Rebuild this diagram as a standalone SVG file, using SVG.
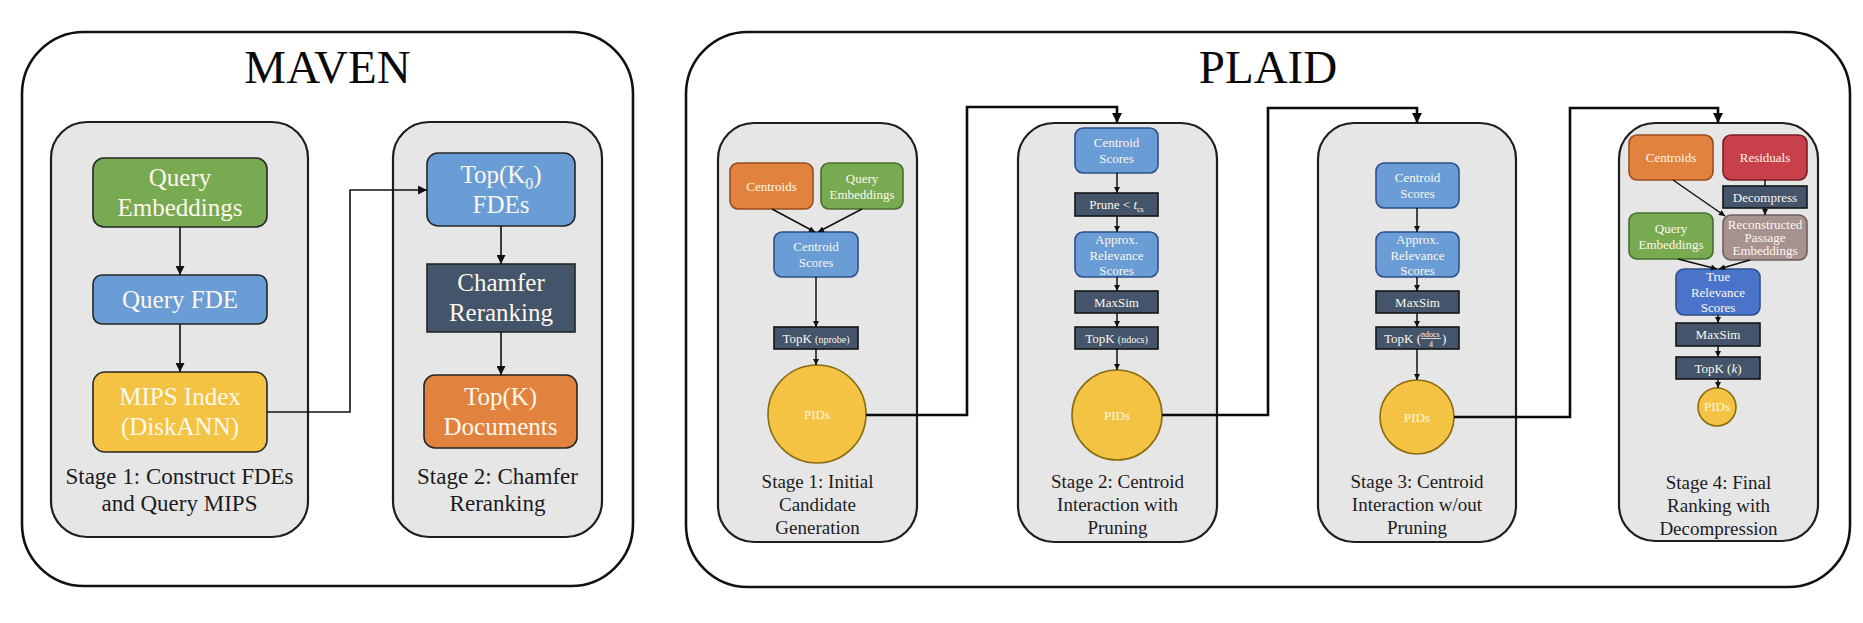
<svg xmlns="http://www.w3.org/2000/svg" width="1863" height="623" viewBox="0 0 1863 623" font-family="'Liberation Serif', 'Times New Roman', serif">
  <style>
    text { font-family: "Liberation Serif", "Times New Roman", serif; text-anchor: middle; }
    .outer { fill: #ffffff; stroke: #111; stroke-width: 2.6; }
    .stage { fill: #e7e6e7; stroke: #1e1e1e; stroke-width: 2.2; }
    .title { font-size: 47px; fill: #0a0a0a; }
    .mlabel { font-size: 23px; fill: #1c1c1c; }
    .plabel { font-size: 19px; fill: #1c1c1c; }
    .mtxt { font-size: 25px; fill: #fcf8ec; }
    .ptxt { font-size: 13px; fill: #fcf8ec; }
    .m-node { stroke: #262626; stroke-width: 1.6; }
    .green { fill: #78aa52; }
    .blue { fill: #6a9cd6; }
    .yellow { fill: #f4c343; }
    .orange { fill: #e1823f; }
    .dark { fill: #44546a; }
    .red { fill: #c8404a; }
    .taupe { fill: #a89191; }
    .royal { fill: #4a74c9; }
    .p-blue { stroke: #2e4f8a; stroke-width: 1.6; }
    .p-dark { stroke: #161616; stroke-width: 1.6; }
    .p-orange { stroke: #9a4d1e; stroke-width: 1.6; }
    .p-green { stroke: #4a6f2e; stroke-width: 1.6; }
    .p-yellow { stroke: #8a6c10; stroke-width: 1.6; }
    .p-red { stroke: #7a1f25; stroke-width: 1.6; }
    .p-taupe { stroke: #6f5e5e; stroke-width: 1.6; }
    .thin { fill: none; stroke: #111; stroke-width: 1.6; }
    .tiny { fill: none; stroke: #111; stroke-width: 1.5; }
    .thick { fill: none; stroke: #0a0a0a; stroke-width: 2.6; }
  </style>
  <defs>
    <marker id="arrowM" viewBox="0 0 10 10" refX="10" refY="5" markerWidth="11" markerHeight="9" markerUnits="userSpaceOnUse" orient="auto">
      <path d="M0,0 L10,5 L0,10 z" fill="#111"/>
    </marker>
    <marker id="arrowS" viewBox="0 0 10 10" refX="10" refY="5" markerWidth="7" markerHeight="6" markerUnits="userSpaceOnUse" orient="auto">
      <path d="M0,0 L10,5 L0,10 z" fill="#111"/>
    </marker>
    <marker id="arrowL" viewBox="0 0 10 10" refX="10" refY="5" markerWidth="11" markerHeight="10" markerUnits="userSpaceOnUse" orient="auto">
      <path d="M0,0 L10,5 L0,10 z" fill="#0a0a0a"/>
    </marker>
  </defs>

  <!-- MAVEN panel -->
  <g id="maven">
    <rect class="outer" x="22" y="32" width="611" height="554" rx="62"/>
    <text class="title" x="327.5" y="83">MAVEN</text>
  </g>
  <g id="maven-stage1">
    <rect class="stage" x="51" y="122" width="257" height="415" rx="36"/>
    <text class="mlabel"><tspan x="179.5" y="484">Stage 1: Construct FDEs</tspan><tspan x="179.5" y="511">and Query MIPS</tspan></text>
  </g>
  <g id="maven-stage2">
    <rect class="stage" x="393" y="122" width="209" height="415" rx="36"/>
    <text class="mlabel"><tspan x="497.5" y="484">Stage 2: Chamfer</tspan><tspan x="497.5" y="511">Reranking</tspan></text>
  </g>
  <g id="m-query-emb">
    <rect class="m-node green" x="93" y="158" width="174" height="69" rx="11"/>
    <text class="mtxt"><tspan x="180" y="186">Query</tspan><tspan x="180" y="216">Embeddings</tspan></text>
  </g>
  <g id="m-query-fde">
    <rect class="m-node blue" x="93" y="275" width="174" height="49" rx="9"/>
    <text class="mtxt" x="180" y="308">Query FDE</text>
  </g>
  <g id="m-mips">
    <rect class="m-node yellow" x="93" y="372" width="174" height="80" rx="12"/>
    <text class="mtxt"><tspan x="180" y="405">MIPS Index</tspan><tspan x="180" y="435">(DiskANN)</tspan></text>
  </g>
  <g id="m-topk0">
    <rect class="m-node blue" x="427" y="153" width="148" height="73" rx="11"/>
    <text class="mtxt"><tspan x="501" y="183">Top(K<tspan font-size="16" dy="6">0</tspan><tspan dy="-6">)</tspan></tspan><tspan x="501" y="213">FDEs</tspan></text>
  </g>
  <g id="m-chamfer">
    <rect class="m-node dark" x="427" y="264" width="148" height="68"/>
    <text class="mtxt"><tspan x="501" y="291">Chamfer</tspan><tspan x="501" y="321">Reranking</tspan></text>
  </g>
  <g id="m-topk">
    <rect class="m-node orange" x="424" y="375" width="153" height="73" rx="11"/>
    <text class="mtxt"><tspan x="500.5" y="405">Top(K)</tspan><tspan x="500.5" y="435">Documents</tspan></text>
  </g>

  <!-- PLAID panel -->
  <g id="plaid">
    <rect class="outer" x="686" y="32" width="1164" height="555" rx="62"/>
    <text class="title" x="1268" y="83">PLAID</text>
  </g>

  <g id="p-stage1">
    <rect class="stage" x="718" y="123" width="199" height="419" rx="36"/>
    <text class="plabel"><tspan x="817.5" y="488">Stage 1: Initial</tspan><tspan x="817.5" y="511">Candidate</tspan><tspan x="817.5" y="534">Generation</tspan></text>
  </g>
  <g id="p1-centroids">
    <rect class="orange p-orange" x="730" y="163" width="83" height="46" rx="8"/>
    <text class="ptxt" x="771.5" y="190.5">Centroids</text>
  </g>
  <g id="p1-query-emb">
    <rect class="green p-green" x="821" y="163" width="82" height="46" rx="8"/>
    <text class="ptxt"><tspan x="862" y="182.5">Query</tspan><tspan x="862" y="198.5">Embeddings</tspan></text>
  </g>
  <g id="p1-centroid-scores">
    <rect class="blue p-blue" x="774" y="232" width="84" height="45" rx="8"/>
    <text class="ptxt"><tspan x="816" y="251">Centroid</tspan><tspan x="816" y="267">Scores</tspan></text>
  </g>
  <g id="p1-topk">
    <rect class="dark p-dark" x="774" y="327" width="84" height="22"/>
    <text class="ptxt" x="816" y="342.5">TopK <tspan font-size="10">(nprobe)</tspan></text>
  </g>
  <g id="p1-pids">
    <circle class="yellow p-yellow" cx="817" cy="414" r="49"/>
    <text class="ptxt" x="817" y="419" font-size="14">PIDs</text>
  </g>

  <g id="p-stage2">
    <rect class="stage" x="1018" y="123" width="199" height="419" rx="36"/>
    <text class="plabel"><tspan x="1117.5" y="488">Stage 2: Centroid</tspan><tspan x="1117.5" y="511">Interaction with</tspan><tspan x="1117.5" y="534">Pruning</tspan></text>
  </g>
  <g id="p2-centroid-scores">
    <rect class="blue p-blue" x="1075" y="128" width="83" height="45" rx="8"/>
    <text class="ptxt"><tspan x="1116.5" y="147">Centroid</tspan><tspan x="1116.5" y="163">Scores</tspan></text>
  </g>
  <g id="p2-prune">
    <rect class="dark p-dark" x="1075" y="193" width="83" height="23"/>
    <text class="ptxt" x="1116.5" y="209">Prune &lt; <tspan font-style="italic">t</tspan><tspan font-size="8" dy="3">cs</tspan></text>
  </g>
  <g id="p2-approx">
    <rect class="blue p-blue" x="1075" y="232" width="83" height="45" rx="8"/>
    <text class="ptxt"><tspan x="1116.5" y="244">Approx.</tspan><tspan x="1116.5" y="259.5">Relevance</tspan><tspan x="1116.5" y="275">Scores</tspan></text>
  </g>
  <g id="p2-maxsim">
    <rect class="dark p-dark" x="1075" y="291" width="83" height="22"/>
    <text class="ptxt" x="1116.5" y="306.5">MaxSim</text>
  </g>
  <g id="p2-topk">
    <rect class="dark p-dark" x="1075" y="327" width="83" height="22"/>
    <text class="ptxt" x="1116.5" y="342.5">TopK <tspan font-size="10">(ndocs)</tspan></text>
  </g>
  <g id="p2-pids">
    <circle class="yellow p-yellow" cx="1117" cy="415" r="45"/>
    <text class="ptxt" x="1117" y="420" font-size="14">PIDs</text>
  </g>

  <g id="p-stage3">
    <rect class="stage" x="1318" y="123" width="198" height="419" rx="36"/>
    <text class="plabel"><tspan x="1417" y="488">Stage 3: Centroid</tspan><tspan x="1417" y="511">Interaction w/out</tspan><tspan x="1417" y="534">Pruning</tspan></text>
  </g>
  <g id="p3-centroid-scores">
    <rect class="blue p-blue" x="1376" y="163" width="83" height="45" rx="8"/>
    <text class="ptxt"><tspan x="1417.5" y="182">Centroid</tspan><tspan x="1417.5" y="198">Scores</tspan></text>
  </g>
  <g id="p3-approx">
    <rect class="blue p-blue" x="1376" y="232" width="83" height="45" rx="8"/>
    <text class="ptxt"><tspan x="1417.5" y="244">Approx.</tspan><tspan x="1417.5" y="259.5">Relevance</tspan><tspan x="1417.5" y="275">Scores</tspan></text>
  </g>
  <g id="p3-maxsim">
    <rect class="dark p-dark" x="1376" y="291" width="83" height="22"/>
    <text class="ptxt" x="1417.5" y="306.5">MaxSim</text>
  </g>
  <g id="p3-topk">
    <rect class="dark p-dark" x="1376" y="327" width="83" height="22"/>
    <!-- TopK(ndocs / 4): numerator, denominator and parenthesis set as one text run -->
    <text class="ptxt" x="1384" y="342.5" style="text-anchor:start">TopK (<tspan font-size="8" dy="-6">ndocs</tspan><tspan font-size="8" x="1429" dy="10.5">4</tspan><tspan x="1442" dy="-4.5">)</tspan></text>
    <line x1="1421" y1="338.5" x2="1441" y2="338.5" stroke="#fcf8ec" stroke-width="0.8"/>
  </g>
  <g id="p3-pids">
    <circle class="yellow p-yellow" cx="1417" cy="417" r="37"/>
    <text class="ptxt" x="1417" y="422" font-size="14">PIDs</text>
  </g>

  <g id="p-stage4">
    <rect class="stage" x="1619" y="123" width="199" height="418" rx="36"/>
    <text class="plabel"><tspan x="1718.5" y="489">Stage 4: Final</tspan><tspan x="1718.5" y="512">Ranking with</tspan><tspan x="1718.5" y="535">Decompression</tspan></text>
  </g>
  <g id="p4-centroids">
    <rect class="orange p-orange" x="1629" y="135" width="84" height="45" rx="8"/>
    <text class="ptxt" x="1671" y="162">Centroids</text>
  </g>
  <g id="p4-residuals">
    <rect class="red p-red" x="1723" y="135" width="84" height="45" rx="8"/>
    <text class="ptxt" x="1765" y="162">Residuals</text>
  </g>
  <g id="p4-decompress">
    <rect class="dark p-dark" x="1723" y="186" width="84" height="22"/>
    <text class="ptxt" x="1765" y="201.5">Decompress</text>
  </g>
  <g id="p4-query-emb">
    <rect class="green p-green" x="1629" y="213" width="84" height="46" rx="8"/>
    <text class="ptxt"><tspan x="1671" y="232.5">Query</tspan><tspan x="1671" y="248.5">Embeddings</tspan></text>
  </g>
  <g id="p4-reconstructed">
    <rect class="taupe p-taupe" x="1723" y="215" width="84" height="45" rx="8"/>
    <text class="ptxt" font-size="11"><tspan x="1765" y="229">Reconstructed</tspan><tspan x="1765" y="242">Passage</tspan><tspan x="1765" y="255">Embeddings</tspan></text>
  </g>
  <g id="p4-true-relevance">
    <rect class="royal p-blue" x="1676" y="269" width="84" height="46" rx="8"/>
    <text class="ptxt"><tspan x="1718" y="281">True</tspan><tspan x="1718" y="297">Relevance</tspan><tspan x="1718" y="312">Scores</tspan></text>
  </g>
  <g id="p4-maxsim">
    <rect class="dark p-dark" x="1676" y="323" width="84" height="23"/>
    <text class="ptxt" x="1718" y="339">MaxSim</text>
  </g>
  <g id="p4-topk">
    <rect class="dark p-dark" x="1676" y="357" width="84" height="22"/>
    <text class="ptxt" x="1718" y="372.5">TopK (<tspan font-style="italic">k</tspan>)</text>
  </g>
  <g id="p4-pids">
    <circle class="yellow p-yellow" cx="1717" cy="407" r="19"/>
    <text class="ptxt" x="1717" y="410.5" font-size="10">PIDs</text>
  </g>

  <!-- connectors -->
  <g id="connectors">
    <!-- MAVEN -->
    <line class="thin" x1="180" y1="227" x2="180" y2="275" marker-end="url(#arrowM)"/>
    <line class="thin" x1="180" y1="324" x2="180" y2="372" marker-end="url(#arrowM)"/>
    <polyline class="thin" points="267,412 350,412 350,190 427,190" marker-end="url(#arrowM)"/>
    <line class="thin" x1="501" y1="226" x2="501" y2="264" marker-end="url(#arrowM)"/>
    <line class="thin" x1="501" y1="332" x2="501" y2="375" marker-end="url(#arrowM)"/>

    <!-- PLAID stage 1 -->
    <line class="tiny" x1="772" y1="209" x2="815" y2="232" marker-end="url(#arrowS)"/>
    <line class="tiny" x1="862" y1="209" x2="818" y2="232" marker-end="url(#arrowS)"/>
    <line class="tiny" x1="816" y1="277" x2="816" y2="327" marker-end="url(#arrowS)"/>
    <line class="tiny" x1="816" y1="349" x2="816" y2="365" marker-end="url(#arrowS)"/>

    <!-- PLAID stage 2 -->
    <line class="tiny" x1="1117" y1="173" x2="1117" y2="193" marker-end="url(#arrowS)"/>
    <line class="tiny" x1="1117" y1="216" x2="1117" y2="232" marker-end="url(#arrowS)"/>
    <line class="tiny" x1="1117" y1="277" x2="1117" y2="291" marker-end="url(#arrowS)"/>
    <line class="tiny" x1="1117" y1="313" x2="1117" y2="327" marker-end="url(#arrowS)"/>
    <line class="tiny" x1="1117" y1="349" x2="1117" y2="370" marker-end="url(#arrowS)"/>

    <!-- PLAID stage 3 -->
    <line class="tiny" x1="1417" y1="208" x2="1417" y2="232" marker-end="url(#arrowS)"/>
    <line class="tiny" x1="1417" y1="277" x2="1417" y2="291" marker-end="url(#arrowS)"/>
    <line class="tiny" x1="1417" y1="313" x2="1417" y2="327" marker-end="url(#arrowS)"/>
    <line class="tiny" x1="1417" y1="349" x2="1417" y2="380" marker-end="url(#arrowS)"/>

    <!-- PLAID stage 4 -->
    <line class="tiny" x1="1673" y1="180" x2="1725" y2="216" marker-end="url(#arrowS)"/>
    <line class="tiny" x1="1765" y1="180" x2="1765" y2="186"/>
    <line class="tiny" x1="1765" y1="208" x2="1765" y2="215" marker-end="url(#arrowS)"/>
    <line class="tiny" x1="1678" y1="259" x2="1717" y2="269" marker-end="url(#arrowS)"/>
    <line class="tiny" x1="1750" y1="260" x2="1719" y2="269" marker-end="url(#arrowS)"/>
    <line class="tiny" x1="1718" y1="315" x2="1718" y2="323" marker-end="url(#arrowS)"/>
    <line class="tiny" x1="1718" y1="346" x2="1718" y2="357" marker-end="url(#arrowS)"/>
    <line class="tiny" x1="1718" y1="379" x2="1718" y2="388" marker-end="url(#arrowS)"/>

    <!-- PLAID stage hand-offs -->
    <polyline class="thick" points="866,415 967,415 967,107 1117,107 1117,123" marker-end="url(#arrowL)"/>
    <polyline class="thick" points="1162,415 1268,415 1268,108 1417,108 1417,123" marker-end="url(#arrowL)"/>
    <polyline class="thick" points="1454,417 1570,417 1570,108 1718,108 1718,123" marker-end="url(#arrowL)"/>
  </g>
</svg>
